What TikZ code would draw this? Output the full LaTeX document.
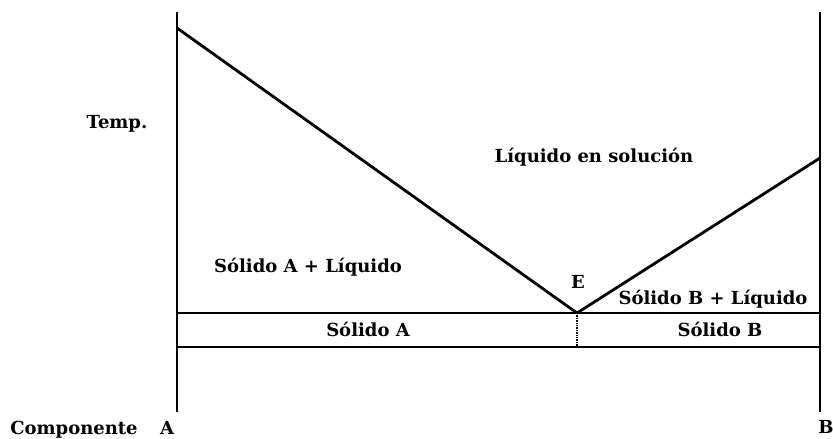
\documentclass[tikz,border=0pt]{standalone}
\usepackage{fontspec}
\setmainfont{DejaVu Serif}
\begin{document}
\begin{tikzpicture}[x=1pt, y=-1pt]
  \useasboundingbox (0,0) rectangle (833,439);
  \tikzstyle{txt}=[font=\bfseries\fontsize{18}{20}\selectfont, inner sep=0pt]
  \tikzstyle{linie}=[line width=2.8pt]

  % Achsen
  \coordinate (at) at (177,12);
  \coordinate (ab) at (177,412);
  \coordinate (bt) at (820,12);
  \coordinate (bb) at (820,412);
  \draw[line width=2.2pt] (at) -- (ab);
  \draw[line width=2.2pt] (bt) -- (bb);

  % Liquidus
  \coordinate (la) at (177,28);
  \coordinate (e) at (577,313);
  \coordinate (lb) at (820,158);
  \draw[linie] (la) -- (e);
  \draw[linie] (e) -- (lb);

  % Solidus
  \coordinate (s1) at (177,313);
  \coordinate (s2) at (820,313);
  \coordinate (u1) at (177,347);
  \coordinate (u2) at (820,347);
  \draw[line width=2pt] (s1) -- (s2);
  \draw[line width=2pt] (u1) -- (u2);
  \coordinate (eu) at (577,347);
  \draw[densely dotted, line width=1.4pt] (e) -- (eu);

  % Beschriftungen
  \node[txt] (temp) at (117,124) {Temp.};
  \node[txt] (liq) at (594,157) {Líquido en solución};
  \node[txt] (sal) at (308,267) {Sólido A + Líquido};
  \node[txt] (en) at (578,282) {E};
  \node[txt] (sbl) at (713,299) {Sólido B + Líquido};
  \node[txt] (sa) at (368,329) {Sólido A};
  \node[txt] (sb) at (720,329) {Sólido B};
  \node[txt, anchor=base] (comp) at (74,434) {Componente};
  \node[txt, anchor=base] (ca) at (167,434) {A};
  \node[txt, anchor=base] (cb) at (826,433) {B};
\end{tikzpicture}
\end{document}
